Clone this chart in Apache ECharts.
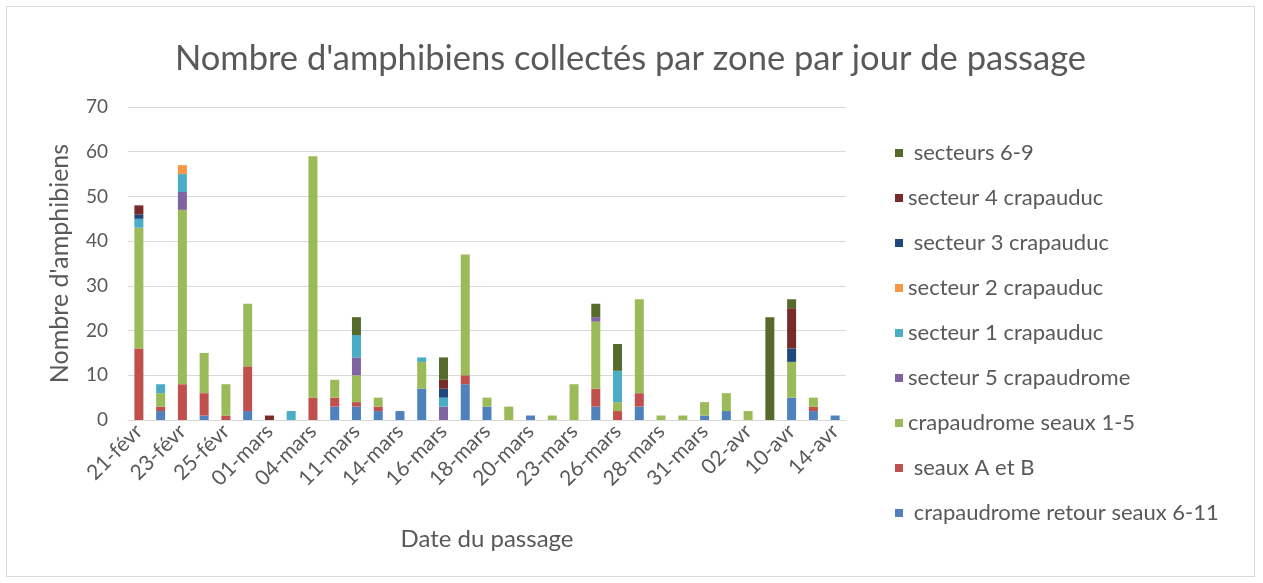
<!DOCTYPE html>
<html>
<head>
<meta charset="utf-8">
<script src="https://cdn.jsdelivr.net/npm/echarts@6/dist/echarts.min.js"></script>
<style>
  html, body { margin: 0; padding: 0; background: #fff; }
  #chart { position: absolute; left: 6px; top: 6px; width: 1249px; height: 571px; border: 1px solid #d9d9d9; box-sizing: border-box; }
</style>
</head>
<body>
<div id="chart"></div>
<script>
// dates of passage (33 visits)
var dates = ['21-févr', '22-févr', '23-févr', '24-févr', '25-févr', '27-févr', '01-mars', '02-mars',
  '04-mars', '10-mars', '11-mars', '13-mars', '14-mars', '15-mars', '16-mars', '17-mars', '18-mars',
  '19-mars', '20-mars', '22-mars', '23-mars', '24-mars', '26-mars', '27-mars', '28-mars', '30-mars',
  '31-mars', '01-avr', '02-avr', '08-avr', '10-avr', '12-avr', '14-avr'];

// series values, bottom of the stack first
var retourSeaux611 = [0, 2, 0, 1, 0, 2, 0, 0, 0, 3, 3, 2, 2, 7, 0, 8, 3, 0, 1, 0, 0, 3, 0, 3, 0, 0, 1, 2, 0, 0, 5, 2, 1];
var seauxAB        = [16, 1, 8, 5, 1, 10, 0, 0, 5, 2, 1, 1, 0, 0, 0, 2, 0, 0, 0, 0, 0, 4, 2, 3, 0, 0, 0, 0, 0, 0, 0, 1, 0];
var crapaudrome15  = [27, 3, 39, 9, 7, 14, 0, 0, 54, 4, 6, 2, 0, 6, 0, 27, 2, 3, 0, 1, 8, 15, 2, 21, 1, 1, 3, 4, 2, 0, 8, 2, 0];
var secteur5       = [0, 0, 4, 0, 0, 0, 0, 0, 0, 0, 4, 0, 0, 0, 3, 0, 0, 0, 0, 0, 0, 1, 0, 0, 0, 0, 0, 0, 0, 0, 0, 0, 0];
var secteur1       = [2, 2, 4, 0, 0, 0, 0, 2, 0, 0, 5, 0, 0, 1, 2, 0, 0, 0, 0, 0, 0, 0, 7, 0, 0, 0, 0, 0, 0, 0, 0, 0, 0];
var secteur2       = [0, 0, 2, 0, 0, 0, 0, 0, 0, 0, 0, 0, 0, 0, 0, 0, 0, 0, 0, 0, 0, 0, 0, 0, 0, 0, 0, 0, 0, 0, 0, 0, 0];
var secteur3       = [1, 0, 0, 0, 0, 0, 0, 0, 0, 0, 0, 0, 0, 0, 2, 0, 0, 0, 0, 0, 0, 0, 0, 0, 0, 0, 0, 0, 0, 0, 3, 0, 0];
var secteur4       = [2, 0, 0, 0, 0, 0, 1, 0, 0, 0, 0, 0, 0, 0, 2, 0, 0, 0, 0, 0, 0, 0, 0, 0, 0, 0, 0, 0, 0, 0, 9, 0, 0];
var secteurs69     = [0, 0, 0, 0, 0, 0, 0, 0, 0, 0, 4, 0, 0, 0, 5, 0, 0, 0, 0, 0, 0, 3, 6, 0, 0, 0, 0, 0, 0, 23, 2, 0, 0];

var names = [' crapaudrome retour seaux 6-11', ' seaux A et B', 'crapaudrome seaux 1-5', 'secteur 5 crapaudrome',
  'secteur 1 crapauduc', 'secteur 2 crapauduc', ' secteur 3 crapauduc', 'secteur 4 crapauduc', ' secteurs 6-9'];
var colors = ['#4f81bd', '#c0504d', '#9bbb59', '#8064a2', '#4bacc6', '#f79646', '#1f497d', '#772c2a', '#566b2b'];
var values = [retourSeaux611, seauxAB, crapaudrome15, secteur5, secteur1, secteur2, secteur3, secteur4, secteurs69];

var yTicks = [0, 10, 20, 30, 40, 50, 60, 70];

var series = names.map(function (name, i) {
    return {
        name: name,
        type: 'bar',
        stack: 'total',
        barWidth: 9,
        itemStyle: { color: colors[i] },
        data: values[i]
    };
});

var chart = echarts.init(document.getElementById('chart'));
chart.setOption({
    animation: false,
    textStyle: { fontFamily: 'Lato' },
    title: {
        text: "Nombre d'amphibiens collectés par zone par jour de passage",
        left: 'center',
        top: 29,
        textStyle: { fontFamily: 'Lato', fontSize: 34.5, fontWeight: 'normal', color: '#595959' }
    },
    legend: {
        orient: 'vertical',
        left: 883,
        top: 130,
        itemWidth: 8,
        itemHeight: 8,
        itemGap: 23,
        icon: 'rect',
        data: names.slice().reverse(),
        textStyle: { fontFamily: 'Lato', fontSize: 22, color: '#595959', lineHeight: 20 }
    },
    grid: { left: 121, top: 100, width: 718, height: 313 },
    xAxis: {
        type: 'category',
        data: dates,
        name: 'Date du passage',
        nameLocation: 'middle',
        nameGap: 107,
        nameTextStyle: { fontFamily: 'Lato', fontSize: 24, color: '#595959' },
        axisLine: { lineStyle: { color: '#d9d9d9' } },
        axisTick: { show: false },
        axisLabel: { interval: 1, rotate: 45, fontSize: 21, color: '#595959', margin: 8 }
    },
    yAxis: {
        type: 'value',
        min: yTicks[0],
        max: yTicks[yTicks.length - 1],
        interval: 10,
        name: "Nombre d'amphibiens",
        nameLocation: 'middle',
        nameGap: 56,
        nameTextStyle: { fontFamily: 'Lato', fontSize: 25, color: '#595959' },
        axisLine: { show: false },
        axisTick: { show: false },
        axisLabel: { fontSize: 19, color: '#595959', margin: 20 },
        splitLine: { lineStyle: { color: '#d9d9d9' } }
    },
    series: series
});
</script>
</body>
</html>
